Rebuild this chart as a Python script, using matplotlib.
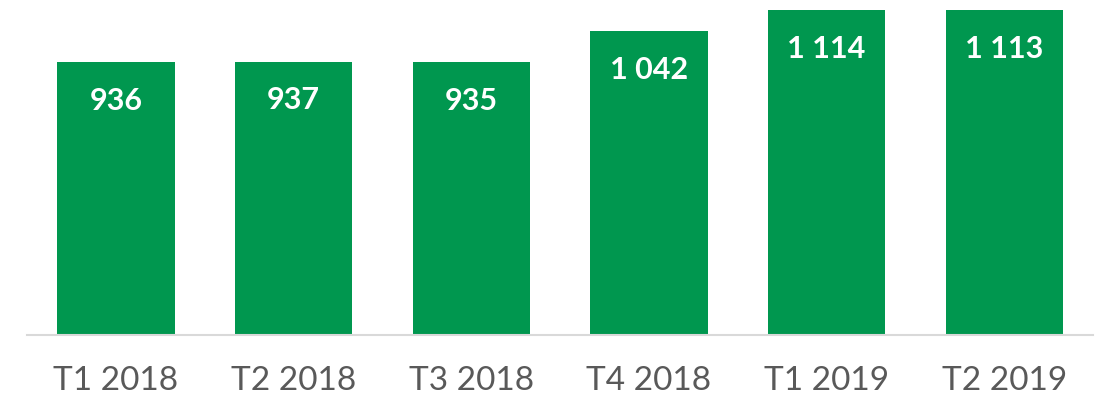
import matplotlib.pyplot as plt

# Données trimestrielles
trimestres = ["T1 2018", "T2 2018", "T3 2018", "T4 2018", "T1 2019", "T2 2019"]
valeurs = [936, 937, 935, 1042, 1114, 1113]
etiquettes = ["936", "937", "935", "1 042", "1 114", "1 113"]

plt.rcParams['font.family'] = ['Lato', 'DejaVu Sans']

fig = plt.figure(figsize=(10.99, 4.02), dpi=100)
ax = fig.add_axes([0.0246, 0.163, 0.97, 0.837])

x = range(len(trimestres))
bars = ax.bar(x, valeurs, width=0.66, color="#00974F", zorder=2)

for b, lab in zip(bars, etiquettes):
    ax.annotate(lab, (b.get_x() + b.get_width() / 2, b.get_height()),
                xytext=(0, -27), textcoords="offset points",
                ha="center", va="center", color="white",
                fontsize=22, fontweight="bold")

ax.set_xlim(-0.5, len(trimestres) - 0.5)
ax.set_ylim(0, 1152)
ax.set_xticks(list(x))
ax.set_xticklabels(trimestres, fontsize=24, color="#595959")
ax.tick_params(axis="x", length=0, pad=21)
ax.set_yticks([])

for s in ["top", "left", "right"]:
    ax.spines[s].set_visible(False)
ax.spines["bottom"].set_color("#D9D9D9")
ax.spines["bottom"].set_linewidth(1.5)

fig.savefig("out.png", dpi=100)
